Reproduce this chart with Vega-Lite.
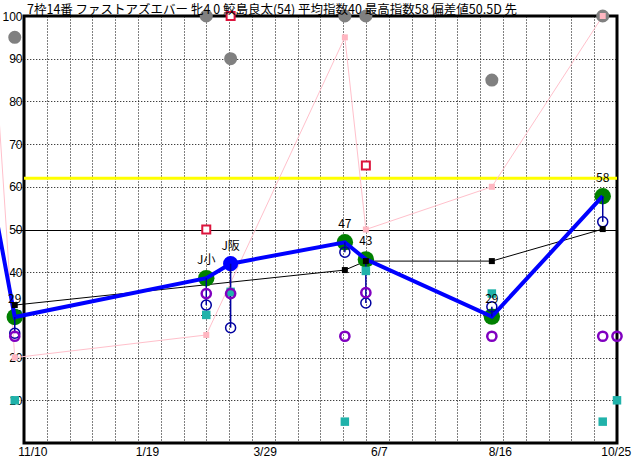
{
  "$schema": "https://vega.github.io/schema/vega-lite/v6.json",
  "width": 593,
  "height": 427,
  "autosize": "none",
  "padding": {"left": 24, "top": 16, "right": 15, "bottom": 17},
  "background": "white",
  "title": {
    "text": "7枠14番 ファストアズエバー 牝4 0 鮫島良太(54) 平均指数40 最高指数58 偏差値50.5D 先",
    "anchor": "start",
    "frame": "group",
    "offset": 3,
    "dx": 3,
    "dy": 11,
    "fontSize": 12.5,
    "fontWeight": "normal",
    "font": "Noto Sans CJK JP",
    "color": "black"
  },
  "config": {
    "view": {"stroke": "black", "strokeWidth": 3},
    "font": "Liberation Sans"
  },
  "datasets": {
    "races": [
      {"date": "2023-10-28T00:00", "blue": 57, "pink": 98},
      {"date": "2023-11-10T00:00", "blue": 29.5, "lab": "29", "kind": "g", "avg": 32.3, "pink": 20, "navy": 25.7, "purple": 25, "teal": 10, "grey": 95},
      {"date": "2024-03-03T00:00", "blue": 38.6, "lab": "J小", "kind": "g", "pink": 25.3, "navy": 32.3, "purple": 35, "teal": 30, "grey": 100, "crimson": 50},
      {"date": "2024-03-17T12:00", "blue": 42, "lab": "J阪", "kind": "b", "navy": 27, "purple": 35, "teal": 35.4, "grey": 90, "crimson": 100},
      {"date": "2024-05-24T12:00", "blue": 47, "lab": "47", "kind": "g", "avg": 40.5, "pink": 95, "navy": 44.7, "purple": 25, "teal": 5, "grey": 100},
      {"date": "2024-06-06T00:00", "blue": 43, "lab": "43", "kind": "g", "avg": 42.6, "pink": 50, "navy": 32.8, "purple": 35.2, "teal": 40.3, "grey": 100, "crimson": 65},
      {"date": "2024-08-20T00:00", "blue": 29.6, "lab": "29", "kind": "g", "avg": 42.6, "pink": 60, "navy": 31.9, "purple": 25, "teal": 35, "grey": 85},
      {"date": "2024-10-25T00:00", "blue": 57.8, "lab": "58", "kind": "g", "avg": 50.1, "pink": 100, "navy": 51.8, "purple": 25, "teal": 5, "grey": 100},
      {"date": "2024-11-02T12:00", "purple": 25, "teal": 10}
    ],
    "ref": [{"v": 62}]
  },
  "data": {"name": "races"},
  "resolve": {"axis": {"x": "independent"}},
  "layer": [
    {
      "data": {"name": "ref"},
      "mark": {"type": "rule", "color": "#ffff00", "strokeWidth": 3},
      "encoding": {
        "y": {
          "field": "v", "type": "quantitative",
          "scale": {"domain": [0, 100]},
          "axis": {
            "title": null,
            "values": [10, 20, 30, 40, 50, 60, 70, 80, 90, 100],
            "grid": true,
            "gridColor": "black",
            "gridDash": {"condition": {"test": "datum.value === 50", "value": []}, "value": [1, 2]},
            "gridOpacity": {"condition": {"test": "datum.value === 100", "value": 0}, "value": 1},
            "ticks": false,
            "domain": false,
            "labelPadding": 2,
            "labelFontSize": 12,
            "labelColor": "black",
            "labelFont": "Liberation Sans"
          }
        }
      }
    },
    {
      "transform": [{"filter": "datum.pink != null"}],
      "mark": {"type": "line", "color": "#ffc0cb", "strokeWidth": 1},
      "encoding": {
        "x": {
          "field": "date", "type": "temporal",
          "scale": {"domain": [{"year": 2023, "month": 11, "date": 10}, {"year": 2024, "month": 11, "date": 2, "hours": 12}], "range": [-9.24, 593]},
          "axis": {
            "orient": "bottom",
            "title": null,
            "values": [
              {"year": 2023, "month": 11, "date": 29, "hours": 1, "minutes": 51},
              {"year": 2023, "month": 12, "date": 12, "hours": 15, "minutes": 41},
              {"year": 2023, "month": 12, "date": 26, "hours": 5, "minutes": 32},
              {"year": 2024, "month": 1, "date": 8, "hours": 19, "minutes": 23},
              {"year": 2024, "month": 1, "date": 22, "hours": 9, "minutes": 14},
              {"year": 2024, "month": 2, "date": 4, "hours": 23, "minutes": 5},
              {"year": 2024, "month": 2, "date": 18, "hours": 12, "minutes": 55},
              {"year": 2024, "month": 3, "date": 3, "hours": 2, "minutes": 46},
              {"year": 2024, "month": 3, "date": 16, "hours": 16, "minutes": 37},
              {"year": 2024, "month": 3, "date": 30, "hours": 6, "minutes": 28},
              {"year": 2024, "month": 4, "date": 12, "hours": 20, "minutes": 18},
              {"year": 2024, "month": 4, "date": 26, "hours": 10, "minutes": 9},
              {"year": 2024, "month": 5, "date": 10, "hours": 0, "minutes": 0},
              {"year": 2024, "month": 5, "date": 23, "hours": 13, "minutes": 51},
              {"year": 2024, "month": 6, "date": 6, "hours": 3, "minutes": 41},
              {"year": 2024, "month": 6, "date": 19, "hours": 17, "minutes": 32},
              {"year": 2024, "month": 7, "date": 3, "hours": 7, "minutes": 23},
              {"year": 2024, "month": 7, "date": 16, "hours": 21, "minutes": 14},
              {"year": 2024, "month": 7, "date": 30, "hours": 11, "minutes": 5},
              {"year": 2024, "month": 8, "date": 13, "hours": 0, "minutes": 55},
              {"year": 2024, "month": 8, "date": 26, "hours": 14, "minutes": 46},
              {"year": 2024, "month": 9, "date": 9, "hours": 4, "minutes": 37},
              {"year": 2024, "month": 9, "date": 22, "hours": 18, "minutes": 28},
              {"year": 2024, "month": 10, "date": 6, "hours": 8, "minutes": 18},
              {"year": 2024, "month": 10, "date": 19, "hours": 22, "minutes": 9}
            ],
            "grid": true,
            "gridColor": "black",
            "gridDash": [1, 2],
            "labels": false,
            "ticks": false,
            "domain": false
          }
        },
        "y": {"field": "pink", "type": "quantitative", "scale": {"domain": [0, 100]}}
      }
    },
    {
      "transform": [{"filter": "datum.avg != null"}],
      "mark": {"type": "line", "color": "black", "strokeWidth": 1},
      "encoding": {
        "x": {"field": "date", "type": "temporal", "scale": {"domain": [{"year": 2023, "month": 11, "date": 10}, {"year": 2024, "month": 11, "date": 2, "hours": 12}], "range": [-9.24, 593]}, "axis": null},
        "y": {"field": "avg", "type": "quantitative", "scale": {"domain": [0, 100]}}
      }
    },
    {
      "transform": [{"filter": "datum.kind == 'g'"}],
      "mark": {"type": "circle", "color": "#008000", "size": 270, "opacity": 1},
      "encoding": {
        "x": {"field": "date", "type": "temporal", "scale": {"domain": [{"year": 2023, "month": 11, "date": 10}, {"year": 2024, "month": 11, "date": 2, "hours": 12}], "range": [-9.24, 593]}, "axis": null},
        "y": {"field": "blue", "type": "quantitative", "scale": {"domain": [0, 100]}}
      }
    },
    {
      "transform": [{"filter": "datum.blue != null"}],
      "mark": {"type": "line", "color": "#0000ff", "strokeWidth": 4},
      "encoding": {
        "x": {"field": "date", "type": "temporal", "scale": {"domain": [{"year": 2023, "month": 11, "date": 10}, {"year": 2024, "month": 11, "date": 2, "hours": 12}], "range": [-9.24, 593]}, "axis": null},
        "y": {"field": "blue", "type": "quantitative", "scale": {"domain": [0, 100]}}
      }
    },
    {
      "transform": [{"filter": "datum.kind == 'b'"}],
      "mark": {"type": "circle", "color": "#0000ff", "size": 230, "opacity": 1},
      "encoding": {
        "x": {"field": "date", "type": "temporal", "scale": {"domain": [{"year": 2023, "month": 11, "date": 10}, {"year": 2024, "month": 11, "date": 2, "hours": 12}], "range": [-9.24, 593]}, "axis": null},
        "y": {"field": "blue", "type": "quantitative", "scale": {"domain": [0, 100]}}
      }
    },
    {
      "transform": [{"filter": "datum.navy != null && datum.blue != null"}],
      "mark": {"type": "rule", "color": "#0000a0", "strokeWidth": 1.5},
      "encoding": {
        "x": {"field": "date", "type": "temporal", "scale": {"domain": [{"year": 2023, "month": 11, "date": 10}, {"year": 2024, "month": 11, "date": 2, "hours": 12}], "range": [-9.24, 593]}, "axis": null},
        "y": {"field": "blue", "type": "quantitative", "scale": {"domain": [0, 100]}},
        "y2": {"field": "navy"}
      }
    },
    {
      "transform": [{"filter": "datum.navy != null"}],
      "mark": {"type": "point", "shape": "circle", "filled": false, "stroke": "#0000a0", "strokeWidth": 1.5, "size": 100, "opacity": 1},
      "encoding": {
        "x": {"field": "date", "type": "temporal", "scale": {"domain": [{"year": 2023, "month": 11, "date": 10}, {"year": 2024, "month": 11, "date": 2, "hours": 12}], "range": [-9.24, 593]}, "axis": null},
        "y": {"field": "navy", "type": "quantitative", "scale": {"domain": [0, 100]}}
      }
    },
    {
      "transform": [{"filter": "datum.avg != null"}],
      "mark": {"type": "square", "color": "black", "size": 36, "opacity": 1},
      "encoding": {
        "x": {"field": "date", "type": "temporal", "scale": {"domain": [{"year": 2023, "month": 11, "date": 10}, {"year": 2024, "month": 11, "date": 2, "hours": 12}], "range": [-9.24, 593]}, "axis": null},
        "y": {"field": "avg", "type": "quantitative", "scale": {"domain": [0, 100]}}
      }
    },
    {
      "transform": [{"filter": "datum.teal != null"}],
      "mark": {"type": "square", "color": "#20b2aa", "size": 72, "opacity": 1},
      "encoding": {
        "x": {"field": "date", "type": "temporal", "scale": {"domain": [{"year": 2023, "month": 11, "date": 10}, {"year": 2024, "month": 11, "date": 2, "hours": 12}], "range": [-9.24, 593]}, "axis": null},
        "y": {"field": "teal", "type": "quantitative", "scale": {"domain": [0, 100]}}
      }
    },
    {
      "transform": [{"filter": "datum.purple != null"}],
      "mark": {"type": "point", "shape": "circle", "filled": false, "stroke": "#8000c0", "strokeWidth": 2.5, "size": 85, "opacity": 1},
      "encoding": {
        "x": {"field": "date", "type": "temporal", "scale": {"domain": [{"year": 2023, "month": 11, "date": 10}, {"year": 2024, "month": 11, "date": 2, "hours": 12}], "range": [-9.24, 593]}, "axis": null},
        "y": {"field": "purple", "type": "quantitative", "scale": {"domain": [0, 100]}}
      }
    },
    {
      "transform": [{"filter": "datum.grey != null"}],
      "mark": {"type": "circle", "color": "#808080", "size": 170, "opacity": 1},
      "encoding": {
        "x": {"field": "date", "type": "temporal", "scale": {"domain": [{"year": 2023, "month": 11, "date": 10}, {"year": 2024, "month": 11, "date": 2, "hours": 12}], "range": [-9.24, 593]}, "axis": null},
        "y": {"field": "grey", "type": "quantitative", "scale": {"domain": [0, 100]}}
      }
    },
    {
      "transform": [{"filter": "datum.crimson != null"}],
      "mark": {"type": "point", "shape": "square", "filled": true, "fill": "white", "stroke": "#dc143c", "strokeWidth": 2, "size": 64, "opacity": 1},
      "encoding": {
        "x": {"field": "date", "type": "temporal", "scale": {"domain": [{"year": 2023, "month": 11, "date": 10}, {"year": 2024, "month": 11, "date": 2, "hours": 12}], "range": [-9.24, 593]}, "axis": null},
        "y": {"field": "crimson", "type": "quantitative", "scale": {"domain": [0, 100]}}
      }
    },
    {
      "transform": [{"filter": "datum.pink != null"}],
      "mark": {"type": "square", "color": "#ffb6c1", "size": 36, "opacity": 1},
      "encoding": {
        "x": {"field": "date", "type": "temporal", "scale": {"domain": [{"year": 2023, "month": 11, "date": 10}, {"year": 2024, "month": 11, "date": 2, "hours": 12}], "range": [-9.24, 593]}, "axis": null},
        "y": {"field": "pink", "type": "quantitative", "scale": {"domain": [0, 100]}}
      }
    },
    {
      "transform": [{"filter": "datum.lab != null"}],
      "mark": {"type": "text", "dy": -18, "fontSize": 12, "font": "Noto Sans CJK JP", "color": "black"},
      "encoding": {
        "x": {
          "field": "date", "type": "temporal",
          "scale": {"domain": [{"year": 2023, "month": 11, "date": 10}, {"year": 2024, "month": 11, "date": 2, "hours": 12}], "range": [-9.24, 593]},
          "axis": {
            "orient": "bottom",
            "title": null,
            "values": [
              {"year": 2023, "month": 11, "date": 10},
              {"year": 2024, "month": 1, "date": 19},
              {"year": 2024, "month": 3, "date": 29},
              {"year": 2024, "month": 6, "date": 7},
              {"year": 2024, "month": 8, "date": 16},
              {"year": 2024, "month": 10, "date": 25}
            ],
            "format": "%-m/%-d",
            "grid": false,
            "ticks": false,
            "domain": false,
            "labelAlign": "left",
            "labelOffset": {"condition": {"test": "month(datum.value) == 9", "value": -2}, "value": 3},
            "labelPadding": 3,
            "labelFontSize": 12,
            "labelColor": "black",
            "labelFont": "Liberation Sans",
            "labelOverlap": false,
            "labelFlush": false
          }
        },
        "y": {"field": "blue", "type": "quantitative", "scale": {"domain": [0, 100]}},
        "text": {"field": "lab"}
      }
    }
  ]
}
